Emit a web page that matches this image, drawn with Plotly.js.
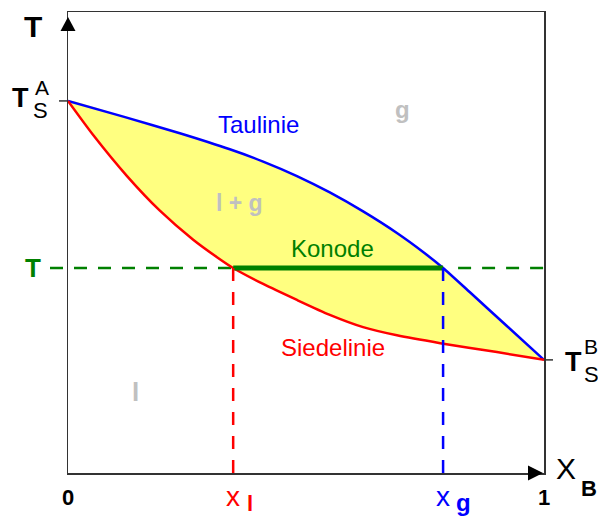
<!DOCTYPE html>
<html><head><meta charset="utf-8">
<script src="https://cdn.plot.ly/plotly-3.0.1.min.js"></script>
<style>html,body{margin:0;padding:0;background:#fff}#chart{width:598px;height:517px}</style>
</head><body><div id="chart"></div>
<script>
// Taulinie (dew curve): mole fraction x_B vs temperature
const tauX = [0, 0.118, 0.235, 0.340, 0.410, 0.481, 0.550, 0.620, 0.691, 0.746, 0.788, 0.845, 0.922, 1];
const tauT = [100, 95.7, 91.3, 87.0, 83.7, 79.8, 75.4, 70.3, 64.5, 59.4, 55.1, 48.5, 39.5, 30.4];
// Siedelinie (boiling curve)
const siedeX = [0, 0.0525, 0.124, 0.193, 0.263, 0.313, 0.347, 0.410, 0.481, 0.550, 0.620, 0.691, 0.782, 0.901, 1];
const siedeT = [100, 90.9, 79.8, 70.5, 62.7, 58.0, 55.1, 50.8, 46.5, 42.5, 39.2, 37.0, 34.9, 32.5, 30.4];
const TA = 100, TB = 30.4;         // boiling points of pure A and B
const xL = 0.347, xG = 0.788;      // tie-line ends
const TK = 55.1;                   // tie-line temperature
const xRange = [0, 1], tRange = [0, 123.9];

const W = 598, H = 517, ML = 68, MR = 54, MT = 12, MB = 44;
const PW = W - ML - MR, PH = H - MT - MB;
const px2p = p => (p - ML) / PW;             // pixel x -> paper
const py2p = p => (H - MB - p) / PH;         // pixel y -> paper
const d2px = x => (x - xRange[0]) / (xRange[1] - xRange[0]); // data x -> paper
const d2py = t => (t - tRange[0]) / (tRange[1] - tRange[0]); // data T -> paper

const FONT = 'Arial, "Liberation Sans", sans-serif';
const gray = '#c0c0c0', green = '#008000', blue = '#0000ff', red = '#ff0000';

const traces = [
  { x: tauX.concat(siedeX.slice().reverse()), y: tauT.concat(siedeT.slice().reverse()),
    mode: 'lines', fill: 'toself', fillcolor: '#ffff80',
    line: {width: 0, color: 'rgba(0,0,0,0)', shape: 'spline', smoothing: 0.6}, hoverinfo: 'skip' },
  { x: tauX, y: tauT, mode: 'lines', line: {color: blue, width: 2.5, shape: 'spline', smoothing: 0.6} },
  { x: siedeX, y: siedeT, mode: 'lines', line: {color: red, width: 2.5, shape: 'spline', smoothing: 0.6} },
  { x: [xL, xG], y: [TK, TK], mode: 'lines', line: {color: green, width: 5} }
];

const dashStr = '13px,11px';
const shapes = [
  // green dashed isotherm
  { type: 'line', xref: 'paper', yref: 'paper', x0: px2p(50), x1: d2px(xL), y0: d2py(TK), y1: d2py(TK),
    line: {color: green, width: 2.5, dash: dashStr}, layer: 'below' },
  { type: 'line', xref: 'paper', yref: 'paper', x0: d2px(xG) + 15 / PW, x1: 1, y0: d2py(TK), y1: d2py(TK),
    line: {color: green, width: 2.5, dash: dashStr} },
  // vertical dashed lines
  { type: 'line', xref: 'paper', yref: 'paper', x0: d2px(xL), x1: d2px(xL), y0: d2py(TK), y1: py2p(484),
    line: {color: red, width: 2.5, dash: dashStr} },
  { type: 'line', xref: 'paper', yref: 'paper', x0: d2px(xG), x1: d2px(xG), y0: d2py(TK), y1: py2p(484),
    line: {color: blue, width: 2.5, dash: dashStr} },
  // ticks at pure component boiling points
  { type: 'line', xref: 'paper', yref: 'paper', x0: px2p(59), x1: 0, y0: d2py(TA), y1: d2py(TA), line: {color: '#333', width: 1.5} },
  { type: 'line', xref: 'paper', yref: 'paper', x0: 1, x1: px2p(553), y0: d2py(TB), y1: d2py(TB), line: {color: '#333', width: 1.5} },
  // axis arrows
  { type: 'path', xref: 'paper', yref: 'paper',
    path: `M ${px2p(60.5)} ${py2p(31)} L ${px2p(75.5)} ${py2p(31)} L ${px2p(68)} ${py2p(17)} Z`,
    fillcolor: '#000', line: {width: 0} },
  { type: 'path', xref: 'paper', yref: 'paper',
    path: `M ${px2p(528)} ${py2p(465.5)} L ${px2p(528)} ${py2p(480.5)} L ${px2p(543)} ${py2p(473)} Z`,
    fillcolor: '#000', line: {width: 0} }
];

function ann(text, x, y, size, color, extra) {
  return Object.assign({ text: text, x: x, y: y, xref: 'paper', yref: 'paper', showarrow: false,
    xanchor: 'center', yanchor: 'middle', font: {family: FONT, size: size, color: color} }, extra || {});
}
const annotations = [
  ann('<b>T</b>', px2p(33), py2p(27), 30, '#000'),
  ann('<b>T</b>', px2p(20), py2p(98), 27, '#000'),
  ann('A', px2p(41.5), py2p(88), 21, '#000'),
  ann('S', px2p(40.5), py2p(111), 22, '#000'),
  ann('<b>T</b>', px2p(573), py2p(362), 27, '#000'),
  ann('B', px2p(591), py2p(346), 21, '#000'),
  ann('S', px2p(591), py2p(374), 22, '#000'),
  ann('<b>T</b>', px2p(33), d2py(TK), 26, green),
  ann('<b>0</b>', d2px(xRange[0]), py2p(498), 22, '#000'),
  ann('<b>1</b>', d2px(xRange[1]), py2p(498), 22, '#000'),
  ann('x', d2px(xL), py2p(496), 28, red),
  ann('<b>l</b>', d2px(xL) + 17 / PW, py2p(503), 22, red),
  ann('x', d2px(xG), py2p(496), 28, blue),
  ann('<b>g</b>', d2px(xG) + 20 / PW, py2p(502), 24, blue),
  ann('X', px2p(566), py2p(468), 30, '#000'),
  ann('<b>B</b>', px2p(589), py2p(488), 22, '#000'),
  ann('Taulinie', px2p(258), py2p(124), 24, blue),
  ann('<b>g</b>', px2p(402), py2p(109), 24, gray),
  ann('<b>l + g</b>', px2p(239), py2p(203), 23, gray),
  ann('Konode', px2p(332), py2p(248), 24, green),
  ann('Siedelinie', px2p(333), py2p(348), 24, red),
  ann('<b>l</b>', px2p(135), py2p(392), 26, gray)
];

const axisCommon = { showgrid: false, zeroline: false, showticklabels: false, ticks: '',
  showline: true, mirror: true, linecolor: '#333', linewidth: 1.5, fixedrange: true };

const layout = {
  width: W, height: H, autosize: false,
  margin: {l: ML, r: MR, t: MT, b: MB, pad: 0},
  paper_bgcolor: '#fff', plot_bgcolor: '#fff',
  showlegend: false,
  xaxis: Object.assign({range: xRange}, axisCommon),
  yaxis: Object.assign({range: tRange}, axisCommon),
  shapes: shapes, annotations: annotations,
  font: {family: FONT}
};
Plotly.newPlot('chart', traces, layout, {displayModeBar: false, staticPlot: true});
</script>
</body></html>
